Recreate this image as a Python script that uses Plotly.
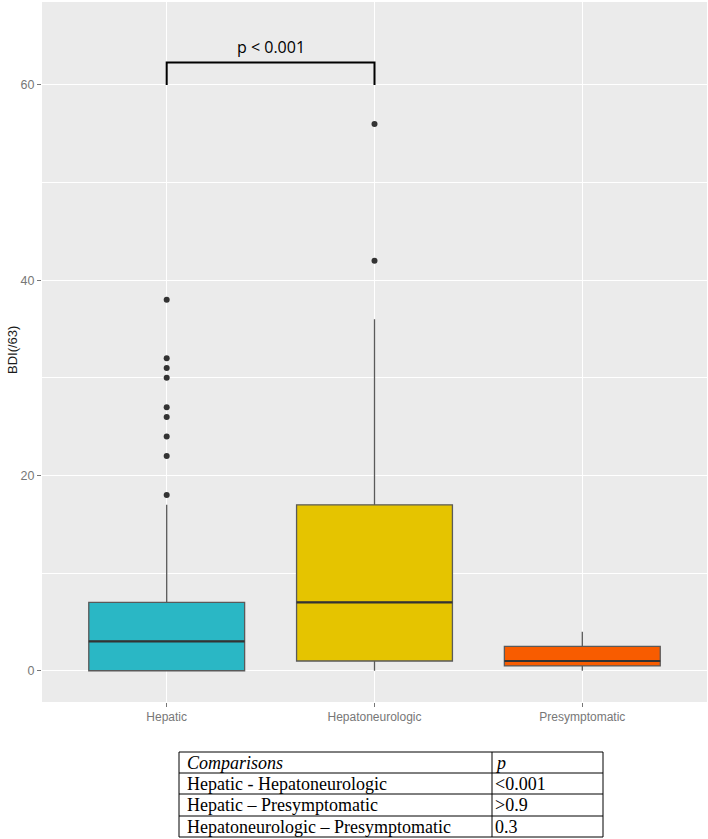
import plotly.graph_objects as go

# Box summary statistics (BDI score, /63)
groups = ["Hepatic", "Hepatoneurologic", "Presymptomatic"]
q1 = [0, 1, 0.5]
median = [3, 7, 1]
q3 = [7, 17, 2.5]
lower_whisker = [0, 0, 0]
upper_whisker = [17, 36, 4]
box_colors = ["#2AB7C5", "#E5C400", "#F85C00"]

# Outliers per group
outliers = {
    "Hepatic": [18, 22, 24, 26, 27, 30, 31, 32, 38],
    "Hepatoneurologic": [42, 56],
    "Presymptomatic": [],
}

# Significance bracket
bracket_groups = ["Hepatic", "Hepatoneurologic"]
bracket_base = 60
bracket_top = 62.3
bracket_label = "p < 0.001"

# Comparison table
table_header = ["<i>Comparisons</i>", "<i>p</i>"]
comparisons = ["Hepatic - Hepatoneurologic", "Hepatic \u2013 Presymptomatic",
               "Hepatoneurologic \u2013 Presymptomatic"]
p_values = ["<0.001", ">0.9", "0.3"]

W, H = 708, 839
BOX_W = 0.75


def px(x):
    return x / W


def py(y):
    return 1 - y / H


fig = go.Figure()

for i, g in enumerate(groups):
    fig.add_trace(go.Box(
        x=[g], q1=[q1[i]], median=[median[i]], q3=[q3[i]],
        lowerfence=[lower_whisker[i]], upperfence=[upper_whisker[i]],
        fillcolor=box_colors[i],
        line=dict(color="#5A5A5A", width=1.3),
        width=BOX_W, whiskerwidth=0,
        boxpoints=False, showlegend=False, hoverinfo="skip",
    ))
    # darker, thicker median like ggplot
    fig.add_shape(type="line", xref="x", yref="y",
                  x0=i - BOX_W / 2, x1=i + BOX_W / 2, y0=median[i], y1=median[i],
                  line=dict(color="#333333", width=2.2))

for g in groups:
    if outliers[g]:
        fig.add_trace(go.Scatter(
            x=[g] * len(outliers[g]), y=outliers[g], mode="markers",
            marker=dict(color="#333333", size=6),
            showlegend=False, hoverinfo="skip",
        ))

# bracket
fig.add_trace(go.Scatter(
    x=[bracket_groups[0], bracket_groups[0], bracket_groups[1], bracket_groups[1]],
    y=[bracket_base, bracket_top, bracket_top, bracket_base],
    mode="lines", line=dict(color="black", width=2),
    showlegend=False, hoverinfo="skip",
))
mid = (groups.index(bracket_groups[0]) + groups.index(bracket_groups[1])) / 2
fig.add_annotation(
    x=mid, y=bracket_top + 1.6, xref="x", yref="y",
    text=bracket_label, showarrow=False,
    font=dict(family="Open Sans", size=16, color="black"),
)

# y axis title
fig.add_annotation(
    x=px(12), y=py(350), xref="paper", yref="paper",
    xanchor="center", yanchor="middle",
    text="BDI(/63)", textangle=-90, showarrow=False,
    font=dict(family="Liberation Sans, Arial", size=13, color="#1a1a1a"),
)

# comparison table drawn below the plot
t_left, t_right, t_div = 179, 603, 492
row_edges = [752, 773, 794, 816, 837]
line_style = dict(color="black", width=1)
fig.add_shape(type="rect", xref="paper", yref="paper",
              x0=px(t_left), x1=px(t_right), y0=py(row_edges[0]), y1=py(row_edges[-1]),
              line=line_style)
fig.add_shape(type="line", xref="paper", yref="paper",
              x0=px(t_div), x1=px(t_div), y0=py(row_edges[0]), y1=py(row_edges[-1]),
              line=line_style)
for ye in row_edges[1:-1]:
    fig.add_shape(type="line", xref="paper", yref="paper",
                  x0=px(t_left), x1=px(t_right), y0=py(ye), y1=py(ye),
                  line=line_style)

rows = [table_header] + [[c, p] for c, p in zip(comparisons, p_values)]
serif = dict(family="Liberation Serif, Times New Roman", size=18, color="black")
for r, (c, p) in enumerate(rows):
    yc = (row_edges[r] + row_edges[r + 1]) / 2
    fig.add_annotation(x=px(t_left + 6), y=py(yc), xref="paper", yref="paper",
                       xanchor="left", yanchor="middle", text=c, showarrow=False, font=serif)
    fig.add_annotation(x=px(t_div + 1), y=py(yc), xref="paper", yref="paper",
                       xanchor="left", yanchor="middle", text=p, showarrow=False, font=serif)

fig.update_layout(
    width=W, height=H,
    margin=dict(l=0, r=0, t=0, b=0),
    paper_bgcolor="white",
    plot_bgcolor="#EBEBEB",
    boxmode="overlay",
    font=dict(family="Liberation Sans, Arial", size=12, color="#666666"),
    xaxis=dict(
        domain=[px(42), px(707)],
        categoryorder="array", categoryarray=groups,
        range=[-0.6, 2.6],
        showgrid=True, gridcolor="white", gridwidth=1.2,
        ticks="outside", ticklen=4, tickcolor="#777777",
        tickfont=dict(size=12, color="#777777"),
        zeroline=False, showline=False,
    ),
    yaxis=dict(
        domain=[py(702), py(2)],
        range=[-3.2, 68.5],
        tickvals=[0, 20, 40, 60],
        showgrid=True, gridcolor="white", gridwidth=1.2,
        minor=dict(tickvals=[10, 30, 50], showgrid=True, gridcolor="white", gridwidth=0.6),
        ticks="outside", ticklen=4, tickcolor="#777777",
        tickfont=dict(size=12.5, color="#777777"),
        zeroline=False, showline=False,
    ),
)

fig.write_html("out.html", config={"displayModeBar": False},
               post_script="document.body.style.margin='0';")
